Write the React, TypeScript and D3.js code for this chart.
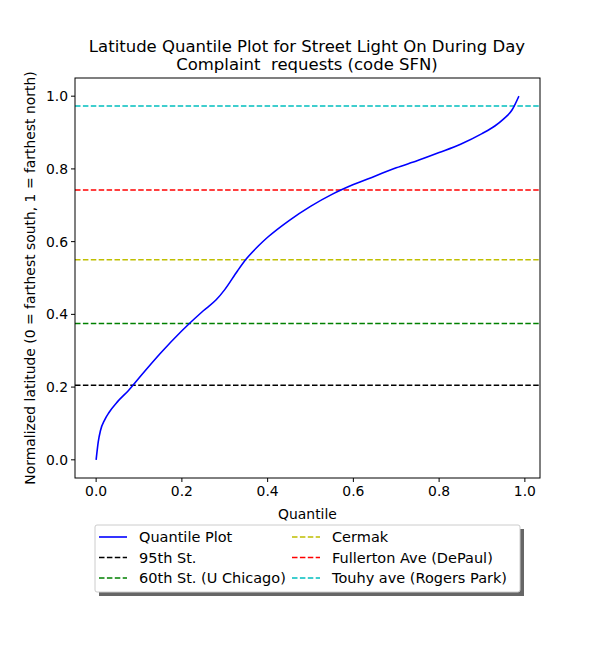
import * as d3 from 'd3';

const quantiles = [0, 0.005, 0.01, 0.02, 0.03, 0.05, 0.075, 0.1, 0.15, 0.2, 0.25, 0.28, 0.3, 0.33, 0.35, 0.38, 0.4, 0.45, 0.5, 0.55, 0.6, 0.65, 0.7, 0.75, 0.8, 0.85, 0.9, 0.93, 0.95, 0.97, 0.986];
const latitudes = [0, 0.05, 0.08, 0.11, 0.13, 0.16, 0.19, 0.225, 0.293, 0.355, 0.41, 0.44, 0.468, 0.52, 0.552, 0.59, 0.612, 0.658, 0.697, 0.73, 0.757, 0.78, 0.803, 0.823, 0.845, 0.868, 0.897, 0.918, 0.937, 0.962, 1.0];

const refNames = ['95th St.', '60th St. (U Chicago)', 'Cermak', 'Fullerton Ave (DePaul)', 'Touhy ave (Rogers Park)'];
const refValues = [0.205, 0.375, 0.55, 0.742, 0.973];
const refColors = ['#000000', '#008000', '#bfbf00', '#ff0000', '#00bfbf'];

const xTicks = [0, 0.2, 0.4, 0.6, 0.8, 1.0];
const yTicks = [0, 0.2, 0.4, 0.6, 0.8, 1.0];

export default function App() {
  const W = 600, H = 650;
  const L = 75, R = 540, T = 78, B = 478;
  const x = d3.scaleLinear().domain([-0.0493, 1.0353]).range([L, R]);
  const y = d3.scaleLinear().domain([-0.05, 1.05]).range([B, T]);
  const pts = quantiles.map((q, i) => [q, latitudes[i]] as [number, number]);
  const line = d3.line<[number, number]>().x(d => x(d[0])).y(d => y(d[1])).curve(d3.curveMonotoneX);
  const font = 'DejaVu Sans, sans-serif';

  const legend = [{ name: 'Quantile Plot', color: '#0000ff', dash: '' }]
    .concat(refNames.map((n, i) => ({ name: n, color: refColors[i], dash: '5.5,2.4' })));

  return (
    <svg width={W} height={H} style={{ position: 'absolute', left: 0, top: 0 }} fontFamily={font}>
      <rect width={W} height={H} fill="#fff" />
      <text x={307} y={52} textAnchor="middle" fontSize={16.5}>Latitude Quantile Plot for Street Light On During Day</text>
      <text x={307} y={70} textAnchor="middle" fontSize={16.5} style={{ whiteSpace: 'pre' }}>{'Complaint  requests (code SFN)'}</text>
      {refValues.map((v, i) => (
        <line key={i} x1={L} x2={R} y1={y(v)} y2={y(v)} stroke={refColors[i]} strokeWidth={1.5} strokeDasharray="5.5,2.4" />
      ))}
      <path d={line(pts) ?? ''} fill="none" stroke="#0000ff" strokeWidth={1.6} />
      <rect x={L} y={T} width={R - L} height={B - T} fill="none" stroke="#000" strokeWidth={1} />
      {xTicks.map(t => (
        <g key={t}>
          <line x1={x(t)} x2={x(t)} y1={B} y2={B + 4} stroke="#000" />
          <text x={x(t)} y={B + 18} textAnchor="middle" fontSize={13.9}>{t.toFixed(1)}</text>
        </g>
      ))}
      {yTicks.map(t => (
        <g key={t}>
          <line x1={L - 4} x2={L} y1={y(t)} y2={y(t)} stroke="#000" />
          <text x={L - 7} y={y(t) + 5} textAnchor="end" fontSize={13.9}>{t.toFixed(1)}</text>
        </g>
      ))}
      <text x={(L + R) / 2} y={519} textAnchor="middle" fontSize={13.9}>Quantile</text>
      <text transform={`translate(35,${(T + B) / 2}) rotate(-90)`} textAnchor="middle" fontSize={13.9}>Normalized latitude (0 = farthest south, 1 = farthest north)</text>
      <rect x={99} y={529} width={425} height={67} fill="#555" opacity={0.9} />
      <rect x={95} y={525} width={425} height={67} fill="#fff" stroke="#ccc" rx={2} />
      {legend.map((e, i) => {
        const col = Math.floor(i / 3), row = i % 3;
        const lx = col === 0 ? 99 : 292;
        const ly = 537 + row * 20.5;
        return (
          <g key={e.name}>
            <line x1={lx} x2={lx + 28} y1={ly} y2={ly} stroke={e.color} strokeWidth={1.6} strokeDasharray={e.dash} />
            <text x={lx + 40} y={ly + 5} fontSize={14.5}>{e.name}</text>
          </g>
        );
      })}
    </svg>
  );
}
